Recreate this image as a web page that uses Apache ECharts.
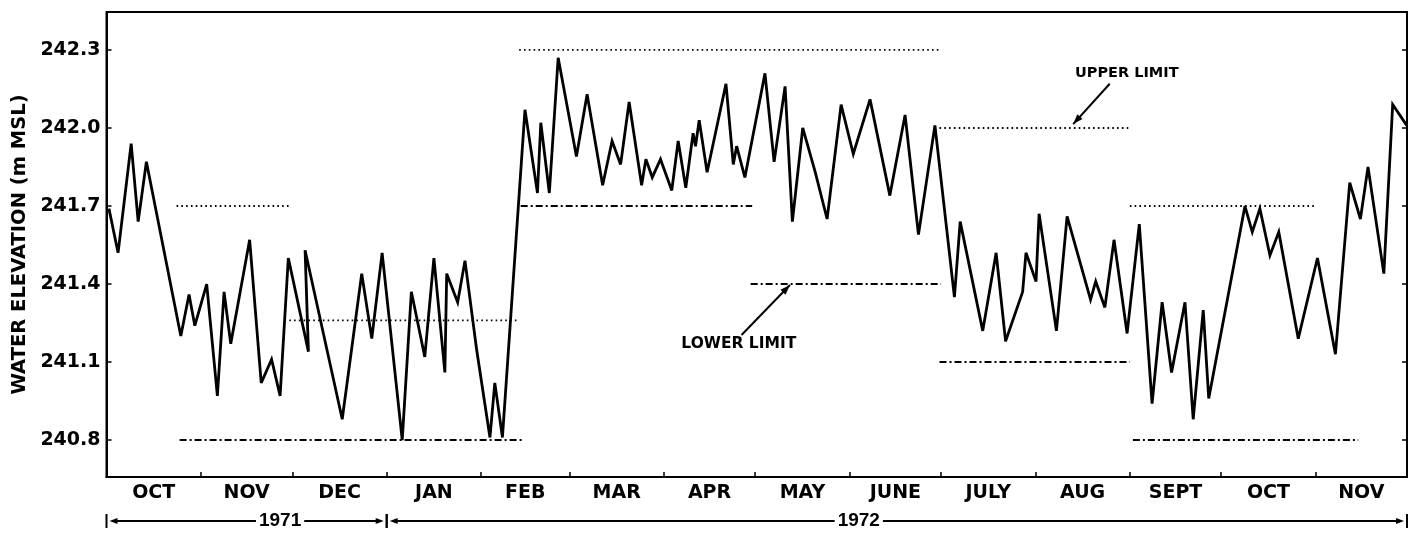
<!DOCTYPE html>
<html><head><meta charset="utf-8">
<script src="https://cdn.jsdelivr.net/npm/echarts@6/dist/echarts.min.js"></script>
<style>html,body{margin:0;padding:0;background:#fff}#c{width:1418px;height:534px}</style>
</head><body><div id="c"></div>
<script>
// Day 0 = 1 Oct 1971
const monthStarts = [0,31,61,92,123,152,183,213,244,274,305,336,366,397,427];
const monthLabels = ['OCT','NOV','DEC','JAN','FEB','MAR','APR','MAY','JUNE','JULY','AUG','SEPT','OCT','NOV'];
const yTicks = [240.8,241.1,241.4,241.7,242.0,242.3];

const obsDays = [0.8,3.8,8.1,10.4,13.1,24.4,27.1,29.0,32.9,36.4,38.6,40.8,47.0,50.8,54.2,57.0,59.7,66.3,65.2,77.4,
  83.8,87.1,90.5,97.1,100.1,104.5,107.5,111.1,111.7,115.3,117.7,121.5,125.9,127.5,130.0,137.4,141.5,142.6,145.4,148.3,
  154.3,157.8,162.9,166.0,168.8,171.6,175.7,177.1,179.2,181.9,185.6,187.7,190.2,192.6,193.4,194.6,197.2,203.4,205.8,206.9,
  209.6,216.2,219.2,222.8,225.2,228.6,232.7,236.6,241.2,245.2,250.7,257.2,262.2,266.6,272.0,278.4,280.3,287.7,292.1,295.2,
  300.8,301.9,305.2,306.2,311.9,315.4,323.1,324.8,327.8,330.8,335.1,339.1,343.3,346.6,349.7,354.1,356.8,360.1,361.9,373.8,
  376.2,378.7,382.0,384.9,391.3,397.6,403.5,408.2,411.7,414.2,419.4,422.3,426.9];
const obsElev = [241.69,241.52,241.94,241.64,241.87,241.20,241.36,241.24,241.40,240.97,241.37,241.17,241.57,241.02,241.11,240.97,241.50,241.14,241.53,240.88,
  241.44,241.19,241.52,240.80,241.37,241.12,241.50,241.06,241.44,241.33,241.49,241.15,240.81,241.02,240.81,242.07,241.75,242.02,241.75,242.27,
  241.89,242.13,241.78,241.95,241.86,242.10,241.78,241.88,241.81,241.88,241.76,241.95,241.77,241.98,241.93,242.03,241.83,242.17,241.86,241.93,
  241.81,242.21,241.87,242.16,241.64,242.00,241.83,241.65,242.09,241.90,242.11,241.74,242.05,241.59,242.01,241.35,241.64,241.22,241.52,241.18,
  241.37,241.52,241.41,241.67,241.22,241.66,241.34,241.41,241.31,241.57,241.21,241.63,240.94,241.33,241.06,241.33,240.88,241.30,240.96,241.70,
  241.60,241.69,241.51,241.60,241.19,241.50,241.13,241.79,241.65,241.85,241.44,242.09,242.01];

// [startDay, endDay, elevation]
const upperLimits = [[23,60,241.70],[60,135,241.26],[135.5,273.5,242.30],[273.5,336,242.00],[336,397,241.70]];
const lowerLimits = [[24,137,240.80],[136,212,241.70],[211.5,274,241.40],[273.5,336,241.10],[337,411,240.80]];

const yearLabels = ['1971','1972'];
const yearBounds = [0,92,427];

const font = '"DejaVu Sans", sans-serif';
const mids = monthLabels.map((_, i) => (monthStarts[i] + monthStarts[i+1]) / 2);

const series = [{
  type:'line', data: obsDays.map((d,i)=>[d, obsElev[i]]), symbol:'none', silent:true,
  lineStyle:{color:'#000', width:2.8, join:'miter', miterLimit:4}, z:5
}];
upperLimits.forEach(s => series.push({type:'line', symbol:'none', silent:true,
  data:[[s[0],s[2]],[s[1],s[2]]], lineStyle:{color:'#000', width:1.8, type:[1.6,3.2]}}));
lowerLimits.forEach(s => series.push({type:'line', symbol:'none', silent:true,
  data:[[s[0],s[2]],[s[1],s[2]]], lineStyle:{color:'#000', width:2, type:[7,3,2,3]}}));

const chart = echarts.init(document.getElementById('c'), null, {renderer:'canvas'});
chart.setOption({
  animation:false,
  backgroundColor:'#fff',
  grid:{left:106.5, right:11, top:12, bottom:57, show:true, borderColor:'#000', borderWidth:2, outerBoundsMode:'none'},
  xAxis:{type:'value', min:0, max:427, splitLine:{show:false},
    axisLine:{lineStyle:{color:'#000', width:2}},
    axisTick:{customValues:monthStarts, inside:true, length:5, lineStyle:{color:'#000', width:1.5}},
    axisLabel:{customValues:mids, color:'#000', fontFamily:font, fontWeight:'bold', fontSize:19, margin:7,
      formatter:v => { let k=0, b=1e9; mids.forEach((m,i)=>{ if(Math.abs(m-v)<b){b=Math.abs(m-v);k=i;} }); return monthLabels[k]; }}
  },
  yAxis:[{type:'value', min:240.658, max:242.446, splitLine:{show:false},
    name:'WATER ELEVATION (m MSL)', nameLocation:'middle', nameRotate:90, nameGap:66,
    nameTextStyle:{color:'#000', fontFamily:font, fontWeight:'bold', fontSize:19.5},
    axisLine:{show:true, lineStyle:{color:'#000', width:2}},
    axisTick:{customValues:yTicks, inside:true, length:5, lineStyle:{color:'#000', width:1.5}},
    axisLabel:{customValues:yTicks, color:'#000', fontFamily:font, fontWeight:'bold', fontSize:19, margin:6,
      formatter:v => v.toFixed(1)}
  },{type:'value', position:'right', min:240.658, max:242.446, splitLine:{show:false},
    axisLine:{show:true, lineStyle:{color:'#000', width:2}},
    axisTick:{customValues:yTicks, inside:true, length:5, lineStyle:{color:'#000', width:1.5}},
    axisLabel:{show:false}
  }],
  series
});

function px(d, v){ return chart.convertToPixel({seriesIndex:0}, [d, v]); }
function head(tx, ty, fx, fy, len, w){
  const dx=tx-fx, dy=ty-fy, L=Math.hypot(dx,dy), ux=dx/L, uy=dy/L;
  const bx=tx-ux*len, by=ty-uy*len;
  return {type:'polygon', shape:{points:[[tx,ty],[bx-uy*w/2,by+ux*w/2],[bx+uy*w/2,by-ux*w/2]]}, style:{fill:'#000'}, z:20};
}
const g = [];
const notes = [
  {text:'UPPER LIMIT', at:[335,242.21], from:[329.4,242.17], to:[317.4,242.015], size:14.5},
  {text:'LOWER LIMIT', at:[207.6,241.17], from:[208.5,241.204], to:[224.4,241.396], size:15.5}
];
notes.forEach(n => {
  const a = px(n.at[0], n.at[1]), f = px(n.from[0], n.from[1]), t = px(n.to[0], n.to[1]);
  g.push({type:'text', x:a[0], y:a[1], style:{text:n.text, font:'bold '+n.size+'px '+font, fill:'#000', align:'center', verticalAlign:'middle'}, z:20});
  g.push({type:'line', shape:{x1:f[0], y1:f[1], x2:t[0], y2:t[1]}, style:{stroke:'#000', lineWidth:2}, z:20});
  g.push(head(t[0], t[1], f[0], f[1], 10, 7));
});
const yy = 521;
for (let i=0;i<yearLabels.length;i++){
  const x1 = px(yearBounds[i], 241)[0], x2 = px(yearBounds[i+1], 241)[0];
  const a = x1 + 2, b = x2 - 2;
  g.push({type:'line', shape:{x1:x1, y1:yy-7, x2:x1, y2:yy+7}, style:{stroke:'#000', lineWidth:2}, z:20});
  g.push({type:'line', shape:{x1:x2, y1:yy-7, x2:x2, y2:yy+7}, style:{stroke:'#000', lineWidth:2}, z:20});
  g.push({type:'line', shape:{x1:a+6, y1:yy, x2:b-6, y2:yy}, style:{stroke:'#000', lineWidth:2}, z:20});
  g.push(head(a+1, yy, b, yy, 8, 6));
  g.push(head(b-1, yy, a, yy, 8, 6));
  const tx = i===0 ? px(57,241)[0] : px(247,241)[0];
  g.push({type:'text', x:tx, y:yy, style:{text:yearLabels[i], font:'bold 19px "Liberation Sans", sans-serif', fill:'#000',
    align:'center', verticalAlign:'middle', backgroundColor:'#fff', padding:[0,3]}, z:21});
}
chart.setOption({graphic:{elements:g}});
</script></body></html>
